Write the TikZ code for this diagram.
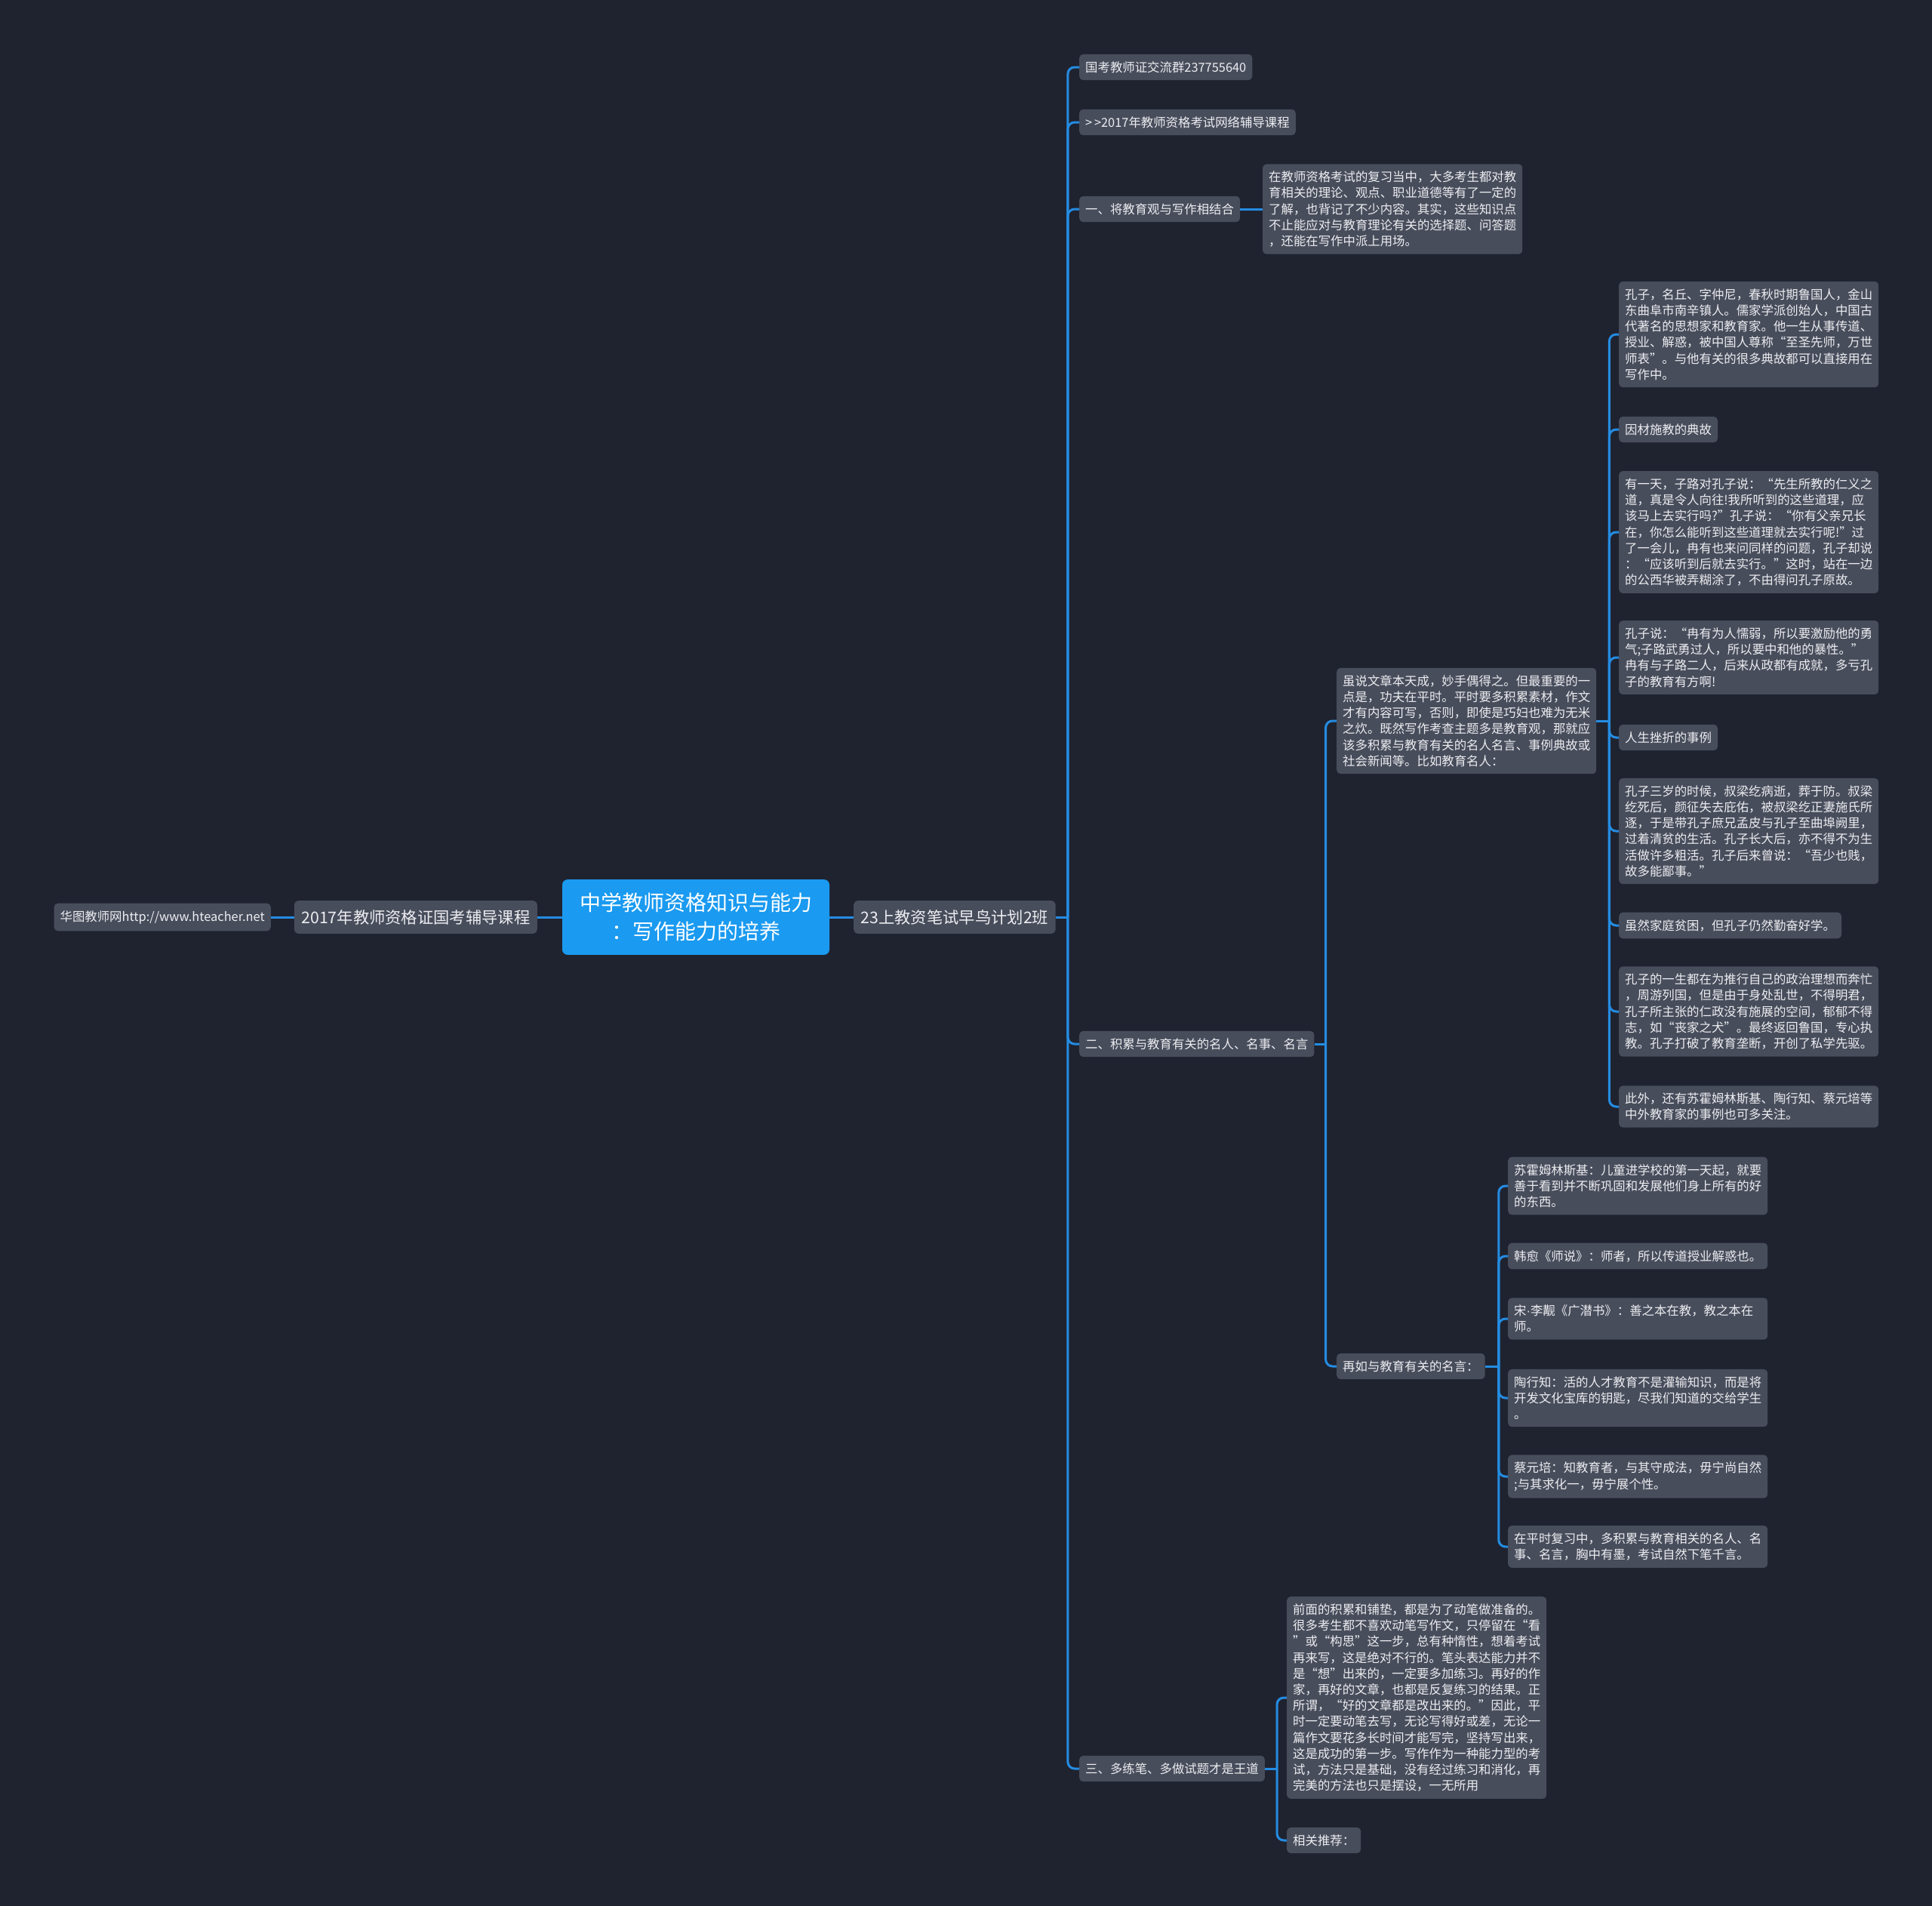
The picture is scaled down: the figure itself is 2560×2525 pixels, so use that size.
\documentclass[tikz,border=0pt]{standalone}
\usepackage{fontspec}
\setmainfont{Noto Sans CJK SC}
\newfontfamily\latinf{Liberation Sans}
\definecolor{bg}{RGB}{31,35,48}
\definecolor{nodefill}{RGB}{72,77,92}
\definecolor{txt}{RGB}{236,237,240}
\definecolor{rootblue}{RGB}{26,154,240}
\definecolor{linec}{RGB}{36,140,226}
\tikzset{
  box/.style={fill=nodefill, rounded corners=5pt, text=txt, inner xsep=8pt, inner ysep=9.5pt,
    font=\fontsize{16.4}{21.2}\selectfont, align=left, anchor=west},
  para/.style={box, text width=328pt},
  midbox/.style={fill=nodefill, rounded corners=6pt, text=txt, inner xsep=9.5pt, inner ysep=12pt,
    font=\fontsize{21.3}{26}\selectfont},
  rootbox/.style={fill=rootblue, rounded corners=7pt, text=white, inner xsep=23pt, inner ysep=18pt,
    font=\fontsize{28}{37.5}\selectfont, align=center},
  conn/.style={draw=linec, line width=3pt},
  br/.style={conn, rounded corners=9pt},
}
\begin{document}
\begin{tikzpicture}[x=1pt,y=-1pt]
\fill[bg] (0,0) rectangle (2560,2525);
\useasboundingbox (0,0) rectangle (2560,2525);

% root and left side
\node[rootbox] (root) at (922,1215) {中学教师资格知识与能力\\：写作能力的培养};
\node[midbox, anchor=east] (L1) at (712,1215) {2017年教师资格证国考辅导课程};
\node[box, anchor=east] (L2) at (359,1215) {华图教师网http://www.hteacher.net};
\node[midbox, anchor=west] (n23) at (1131,1215) {23上教资笔试早鸟计划2班};

% level 2
\node[box] (a) at (1430,89) {国考教师证交流群237755640};
\node[box] (b) at (1430,162) {{>}\,{>}2017年教师资格考试网络辅导课程};
\node[box] (c) at (1430,277) {一、将教育观与写作相结合};
\node[box] (d) at (1430,1383) {二、积累与教育有关的名人、名事、名言};
\node[box] (e) at (1430,2343) {三、多练笔、多做试题才是王道};

\node[para] (c1) at (1673,277) {在教师资格考试的复习当中，大多考生都对教\\育相关的理论、观点、职业道德等有了一定的\\了解，也背记了不少内容。其实，这些知识点\\不止能应对与教育理论有关的选择题、问答题\\，还能在写作中派上用场。};

\node[para] (d1) at (1771,955) {虽说文章本天成，妙手偶得之。但最重要的一\\点是，功夫在平时。平时要多积累素材，作文\\才有内容可写，否则，即使是巧妇也难为无米\\之炊。既然写作考查主题多是教育观，那就应\\该多积累与教育有关的名人名言、事例典故或\\社会新闻等。比如教育名人：};
\node[box] (d2) at (1771,1810) {再如与教育有关的名言：};

\node[para] (k1) at (2145,443) {孔子，名丘、字仲尼，春秋时期鲁国人，金山\\东曲阜市南辛镇人。儒家学派创始人，中国古\\代著名的思想家和教育家。他一生从事传道、\\授业、解惑，被中国人尊称“至圣先师，万世\\师表”。与他有关的很多典故都可以直接用在\\写作中。};
\node[box] (k2) at (2145,569) {因材施教的典故};
\node[para] (k3) at (2145,705) {有一天，子路对孔子说：“先生所教的仁义之\\道，真是令人向往!我所听到的这些道理，应\\该马上去实行吗?”孔子说：“你有父亲兄长\\在，你怎么能听到这些道理就去实行呢!”过\\了一会儿，冉有也来问同样的问题，孔子却说\\：“应该听到后就去实行。”这时，站在一边\\的公西华被弄糊涂了，不由得问孔子原故。};
\node[para] (k4) at (2145,871) {孔子说：“冉有为人懦弱，所以要激励他的勇\\气;子路武勇过人，所以要中和他的暴性。”\\冉有与子路二人，后来从政都有成就，多亏孔\\子的教育有方啊!};
\node[box] (k5) at (2145,977) {人生挫折的事例};
\node[para] (k6) at (2145,1101) {孔子三岁的时候，叔梁纥病逝，葬于防。叔梁\\纥死后，颜征失去庇佑，被叔梁纥正妻施氏所\\逐，于是带孔子庶兄孟皮与孔子至曲埠阙里，\\过着清贫的生活。孔子长大后，亦不得不为生\\活做许多粗活。孔子后来曾说：“吾少也贱，\\故多能鄙事。”};
\node[box] (k7) at (2145,1226) {虽然家庭贫困，但孔子仍然勤奋好学。};
\node[para] (k8) at (2145,1340) {孔子的一生都在为推行自己的政治理想而奔忙\\，周游列国，但是由于身处乱世，不得明君，\\孔子所主张的仁政没有施展的空间，郁郁不得\\志，如“丧家之犬”。最终返回鲁国，专心执\\教。孔子打破了教育垄断，开创了私学先驱。};
\node[para] (k9) at (2145,1466) {此外，还有苏霍姆林斯基、陶行知、蔡元培等\\中外教育家的事例也可多关注。};

\node[para] (q1) at (1998,1571) {苏霍姆林斯基：儿童进学校的第一天起，就要\\善于看到并不断巩固和发展他们身上所有的好\\的东西。};
\node[para] (q2) at (1998,1664) {韩愈《师说》：师者，所以传道授业解惑也。};
\node[para] (q3) at (1998,1747) {宋{\latinf ·}李觏《广潜书》：善之本在教，教之本在\\师。};
\node[para] (q4) at (1998,1852) {陶行知：活的人才教育不是灌输知识，而是将\\开发文化宝库的钥匙，尽我们知道的交给学生\\。};
\node[para] (q5) at (1998,1956) {蔡元培：知教育者，与其守成法，毋宁尚自然\\;与其求化一，毋宁展个性。};
\node[para] (q6) at (1998,2049) {在平时复习中，多积累与教育相关的名人、名\\事、名言，胸中有墨，考试自然下笔千言。};

\node[para] (r1) at (1705,2249) {前面的积累和铺垫，都是为了动笔做准备的。\\很多考生都不喜欢动笔写作文，只停留在“看\\”或“构思”这一步，总有种惰性，想着考试\\再来写，这是绝对不行的。笔头表达能力并不\\是“想”出来的，一定要多加练习。再好的作\\家，再好的文章，也都是反复练习的结果。正\\所谓，“好的文章都是改出来的。”因此，平\\时一定要动笔去写，无论写得好或差，无论一\\篇作文要花多长时间才能写完，坚持写出来，\\这是成功的第一步。写作作为一种能力型的考\\试，方法只是基础，没有经过练习和消化，再\\完美的方法也只是摆设，一无所用};
\node[box] (r2) at (1705,2438) {相关推荐：};

% connectors
\draw[conn] (root.west) -- (L1.east);
\draw[conn] (L1.west) -- (L2.east);
\draw[conn] (root.east) -- (n23.west);

\coordinate (t23) at ([xshift=16pt]n23.east);
\draw[conn] (n23.east) -- (t23);
\foreach \ch in {a,b,c,d,e} \draw[br] (t23) |- (\ch.west);

\draw[conn] (c.east) -- (c1.west);

\coordinate (td) at ([xshift=15pt]d.east);
\draw[conn] (d.east) -- (td);
\foreach \ch in {d1,d2} \draw[br] (td) |- (\ch.west);

\coordinate (td1) at ([xshift=17pt]d1.east);
\draw[conn] (d1.east) -- (td1);
\foreach \ch in {k1,k2,k3,k4,k5,k6,k7,k8,k9} \draw[br] (td1) |- (\ch.west);

\coordinate (td2) at ([xshift=18pt]d2.east);
\draw[conn] (d2.east) -- (td2);
\foreach \ch in {q1,q2,q3,q4,q5,q6} \draw[br] (td2) |- (\ch.west);

\coordinate (te) at ([xshift=16pt]e.east);
\draw[conn] (e.east) -- (te);
\foreach \ch in {r1,r2} \draw[br] (te) |- (\ch.west);
\end{tikzpicture}
\end{document}
